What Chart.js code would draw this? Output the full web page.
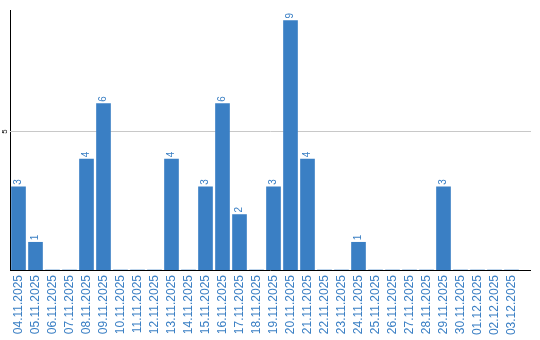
<!DOCTYPE html>
<html>
<head>
<meta charset="utf-8">
<script src="https://cdn.jsdelivr.net/npm/chart.js@4/dist/chart.umd.min.js"></script>
<style>
  html, body { margin: 0; padding: 0; background: #fff; }
  #wrap { width: 540px; height: 340px; }
</style>
</head>
<body>
<div id="wrap"><canvas id="dailyChart" width="540" height="340"></canvas></div>
<script>
// dates shown on the x axis
const days = ['04.11.2025', '05.11.2025', '06.11.2025', '07.11.2025', '08.11.2025', '09.11.2025',
  '10.11.2025', '11.11.2025', '12.11.2025', '13.11.2025', '14.11.2025', '15.11.2025',
  '16.11.2025', '17.11.2025', '18.11.2025', '19.11.2025', '20.11.2025', '21.11.2025',
  '22.11.2025', '23.11.2025', '24.11.2025', '25.11.2025', '26.11.2025', '27.11.2025',
  '28.11.2025', '29.11.2025', '30.11.2025', '01.12.2025', '02.12.2025', '03.12.2025'];
// count per day
const counts = [3, 1, 0, 0, 4, 6, 0, 0, 0, 4, 0, 3, 6, 2, 0, 3, 9, 4, 0, 0, 1, 0, 0, 0, 0, 3, 0, 0, 0, 0];
// y tick labels that get a grid line
const yTicks = [5];

const blue = 'rgb(58, 127, 196)';
const axisEnd = 531; // axis and grid lines run a bit past the last bar slot

// grid line, value labels above bars, the rotated y tick and the x axis line
const decorations = {
  id: 'decorations',
  beforeDatasetsDraw(chart) {
    const ctx = chart.ctx;
    const y = chart.scales.y;
    ctx.save();
    ctx.strokeStyle = '#c8c8c8';
    ctx.lineWidth = 1;
    yTicks.forEach(v => {
      const py = Math.round(y.getPixelForValue(v)) + 0.5;
      ctx.beginPath();
      ctx.moveTo(chart.chartArea.left, py);
      ctx.lineTo(axisEnd, py);
      ctx.stroke();
    });
    ctx.restore();
  },
  afterDatasetsDraw(chart) {
    const ctx = chart.ctx;
    const meta = chart.getDatasetMeta(0);
    ctx.save();
    ctx.fillStyle = blue;
    ctx.font = '10px "Liberation Sans", Arial, sans-serif';
    ctx.textAlign = 'left';
    ctx.textBaseline = 'middle';
    meta.data.forEach((bar, i) => {
      if (!counts[i]) return;
      ctx.save();
      ctx.translate(bar.x, bar.y - 2);
      ctx.rotate(-Math.PI / 2);
      ctx.fillText(String(counts[i]), 0, 0);
      ctx.restore();
    });
    ctx.restore();
  },
  afterDraw(chart) {
    const ctx = chart.ctx;
    const area = chart.chartArea;
    const y = chart.scales.y;
    ctx.save();
    ctx.fillStyle = '#000';
    ctx.font = '8px "Liberation Sans", Arial, sans-serif';
    ctx.textAlign = 'center';
    ctx.textBaseline = 'middle';
    yTicks.forEach(v => {
      ctx.save();
      ctx.translate(5, y.getPixelForValue(v));
      ctx.rotate(-Math.PI / 2);
      ctx.fillText(String(v), 0, 0);
      ctx.restore();
    });
    ctx.strokeStyle = '#000';
    ctx.lineWidth = 1;
    ctx.beginPath();
    ctx.moveTo(area.left, Math.round(area.bottom) + 0.5);
    ctx.lineTo(axisEnd, Math.round(area.bottom) + 0.5);
    ctx.stroke();
    ctx.restore();
  }
};

new Chart(document.getElementById('dailyChart'), {
  type: 'bar',
  data: {
    labels: days,
    datasets: [{
      data: counts,
      backgroundColor: blue,
      borderWidth: 0,
      barThickness: 14
    }]
  },
  options: {
    responsive: false,
    animation: false,
    layout: { padding: { top: 10, right: 20, left: 0, bottom: 0 } },
    plugins: {
      legend: { display: false },
      tooltip: { enabled: false }
    },
    scales: {
      x: {
        offset: true,
        grid: { display: false, drawTicks: false },
        border: { display: false },
        ticks: {
          autoSkip: false,
          minRotation: 90,
          maxRotation: 90,
          padding: 5,
          color: blue,
          font: { family: '"Liberation Sans", Arial, sans-serif', size: 12 }
        },
        afterFit(scale) { scale.height = 70; }
      },
      y: {
        min: 0,
        max: 9.38,
        afterFit(scale) { scale.width = 10; },
        grid: { display: false, drawTicks: false },
        border: { display: true, color: '#000', width: 1 },
        ticks: { display: false }
      }
    }
  },
  plugins: [decorations]
});
</script>
</body>
</html>
